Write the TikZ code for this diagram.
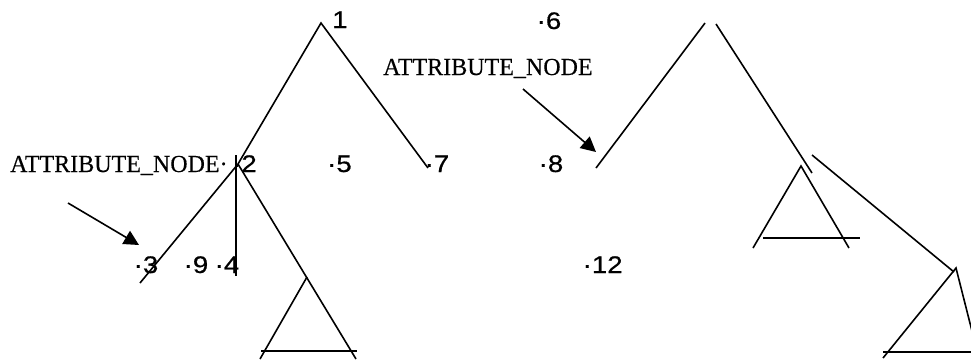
\documentclass[tikz,border=0pt]{standalone}
\usepackage{fontspec}
\setmainfont{Liberation Serif}
\newfontfamily\serifwide[FakeStretch=0.98,FakeBold=0.3]{Liberation Serif}
\newfontfamily\arialfont[FakeStretch=1.15,FakeBold=0.6]{Liberation Sans}
\usetikzlibrary{arrows.meta}
\begin{document}
\begin{tikzpicture}[x=1pt,y=-1pt,
  edge/.style={draw=black,line width=1.6pt},
  pointer/.style={draw=black,line width=1.6pt,-{Triangle[length=15pt,width=15pt]}},
  numlab/.style={anchor=base west,inner sep=0pt,font=\arialfont\fontsize{24}{28}\selectfont},
  wordlab/.style={anchor=base west,inner sep=0pt,font=\serifwide\fontsize{24.5}{29}\selectfont}]
\useasboundingbox[fill=white] (0,0) rectangle (971,360);

% labels
\node[numlab] (l1) at (332,28) {1};
\node[numlab] (l6) at (536.5,29) {·6};
\node[wordlab] (attrtop) at (383,75) {ATTRIBUTE\_NODE};
\node[wordlab] (attrleft) at (10,172) {ATTRIBUTE\_NODE·};
\node[numlab] (l2) at (232,172) {·2};
\node[numlab] (l5) at (327,172) {·5};
\node[numlab] (l7) at (424.5,172) {·7};
\node[numlab] (l8) at (538.5,172) {·8};
\node[numlab] (l3) at (133.5,273) {·3};
\node[numlab] (l9) at (183.5,273) {·9};
\node[numlab] (l4) at (214.5,273) {·4};
\node[numlab] (l12) at (582.5,273) {·12};

% left tree
\coordinate (n1) at (321,23);
\coordinate (n2) at (238,164);
\coordinate (e3) at (140,283);
\coordinate (e7) at (428,168);
\coordinate (v2top) at (236,155);
\coordinate (v2bot) at (236,276);
\coordinate (ta) at (307,277);
\coordinate (tr) at (356,359);
\coordinate (tl) at (260,359);
\coordinate (tbl) at (261,351);
\coordinate (tbr) at (357,351);
\draw[edge] (e3) -- (n2) -- (n1) -- (e7);
\draw[edge] (v2top) -- (v2bot);
\draw[edge] (n2) -- (tr);
\draw[edge] (ta) -- (tl);
\draw[edge] (tbl) -- (tbr);

% left arrow
\coordinate (a1s) at (68,203);
\coordinate (a1e) at (139,245);
\draw[pointer] (a1s) -- (a1e);

% right tree
\coordinate (r0) at (705,23);
\coordinate (r8) at (596,168);
\coordinate (r0b) at (716,24);
\coordinate (rc) at (812,173);
\coordinate (t1a) at (801,166);
\coordinate (t1l) at (753,248);
\coordinate (t1r) at (849,248);
\coordinate (t1bl) at (763,238);
\coordinate (t1br) at (860,238);
\coordinate (rd) at (812,155);
\coordinate (t2a) at (956,268);
\coordinate (t2in) at (954,272);
\coordinate (t2l) at (883,358);
\coordinate (t2r) at (975,343);
\coordinate (t2bl) at (883,352);
\coordinate (t2br) at (975,352);
\draw[edge] (r8) -- (r0);
\draw[edge] (r0b) -- (rc);
\draw[edge] (t1l) -- (t1a) -- (t1r);
\draw[edge] (t1bl) -- (t1br);
\draw[edge] (rd) -- (t2in);
\draw[edge] (t2l) -- (t2a) -- (t2r);
\draw[edge] (t2bl) -- (t2br);

% top arrow
\coordinate (a2s) at (523,89);
\coordinate (a2e) at (596,152);
\draw[pointer] (a2s) -- (a2e);
\end{tikzpicture}
\end{document}
